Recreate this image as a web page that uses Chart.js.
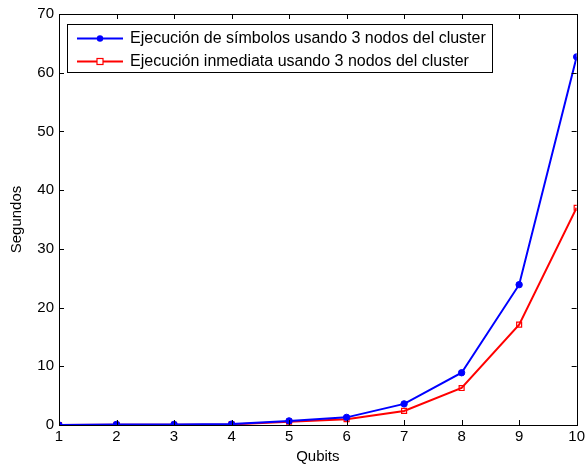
<!DOCTYPE html>
<html>
<head>
<meta charset="utf-8">
<script src="https://cdn.jsdelivr.net/npm/chart.js@4"></script>
<style>
  html, body { margin: 0; padding: 0; background: #fff; }
  #wrap { width: 588px; height: 466px; }
</style>
</head>
<body>
<div id="wrap"><canvas id="chart" width="588" height="466"></canvas></div>
<script>
const qubits = [1, 2, 3, 4, 5, 6, 7, 8, 9, 10];
const simbolos = [0.0, 0.1, 0.1, 0.15, 0.7, 1.3, 3.6, 8.9, 23.9, 62.7];
const inmediata = [0.0, 0.05, 0.05, 0.1, 0.55, 1.0, 2.4, 6.3, 17.1, 37.0];
const yTicks = [0, 10, 20, 30, 40, 50, 60, 70];

const seriesNames = [
  "Ejecución de símbolos usando 3 nodos del cluster",
  "Ejecución inmediata usando 3 nodos del cluster",
];

const FONT = "Liberation Sans, Arial, Helvetica, sans-serif";

// matlab style box + inward ticks
const boxTicks = {
  id: "boxTicks",
  afterDatasetsDraw(chart) {
    const { ctx, chartArea: a, scales } = chart;
    const len = 5;
    ctx.save();
    ctx.strokeStyle = "#000";
    ctx.lineWidth = 1;
    ctx.beginPath();
    for (const q of qubits) {
      const x = Math.round(scales.x.getPixelForValue(q)) + 0.5;
      ctx.moveTo(x, a.bottom); ctx.lineTo(x, a.bottom - len);
      ctx.moveTo(x, a.top); ctx.lineTo(x, a.top + len);
    }
    for (const v of yTicks) {
      const y = Math.round(scales.y.getPixelForValue(v)) + 0.5;
      ctx.moveTo(a.left, y); ctx.lineTo(a.left + len, y);
      ctx.moveTo(a.right, y); ctx.lineTo(a.right - len, y);
    }
    ctx.stroke();
    ctx.strokeRect(Math.round(a.left) + 0.5, Math.round(a.top) + 0.5,
      Math.round(a.right - a.left), Math.round(a.bottom - a.top));
    ctx.restore();
  },
  afterDraw(chart) {
    // legend box inside the axes
    const { ctx } = chart;
    const ds = chart.data.datasets;
    const bx = 67, by = 24, bw = 425, bh = 48;
    ctx.save();
    ctx.fillStyle = "#fff";
    ctx.fillRect(bx, by, bw, bh);
    ctx.strokeStyle = "#000";
    ctx.lineWidth = 1;
    ctx.strokeRect(bx + 0.5, by + 0.5, bw, bh);
    const rows = [38.5, 61.5];
    ds.forEach((d, i) => {
      const y = rows[i];
      ctx.strokeStyle = d.borderColor;
      ctx.lineWidth = d.borderWidth;
      ctx.beginPath();
      ctx.moveTo(77, y); ctx.lineTo(123, y);
      ctx.stroke();
      ctx.lineWidth = 1.2;
      if (d.pointStyle === "circle") {
        ctx.fillStyle = d.borderColor;
        ctx.beginPath();
        ctx.arc(100, y, 3.2, 0, Math.PI * 2);
        ctx.fill();
      } else {
        ctx.fillStyle = "#fff";
        ctx.fillRect(97, y - 3, 6, 6);
        ctx.strokeRect(97, y - 3, 6, 6);
      }
      ctx.fillStyle = "#000";
      ctx.font = "16px " + FONT;
      ctx.textBaseline = "middle";
      ctx.fillText(d.label, 130, y + 0.5);
    });
    ctx.restore();
  },
};

new Chart(document.getElementById("chart"), {
  type: "line",
  data: {
    datasets: [
      {
        label: seriesNames[0],
        data: qubits.map((q, i) => ({ x: q, y: simbolos[i] })),
        borderColor: "#0000ff",
        backgroundColor: "#0000ff",
        borderWidth: 2,
        pointStyle: "circle",
        pointRadius: 3.2,
        pointBorderWidth: 1,
        tension: 0,
      },
      {
        label: seriesNames[1],
        data: qubits.map((q, i) => ({ x: q, y: inmediata[i] })),
        borderColor: "#ff0000",
        backgroundColor: "rgba(255,255,255,0)",
        borderWidth: 2,
        pointStyle: "rect",
        pointRadius: 3.5,
        pointBorderWidth: 1.2,
        tension: 0,
      },
    ],
  },
  options: {
    responsive: false,
    animation: false,
    layout: { padding: { left: 8, top: 14, right: 10, bottom: 0 } },
    plugins: { legend: { display: false }, tooltip: { enabled: false } },
    scales: {
      x: {
        type: "linear",
        min: 1,
        max: 10,
        afterFit: (s) => { s.height = 41; },
        afterBuildTicks: (s) => { s.ticks = qubits.map((v) => ({ value: v })); },
        grid: { display: false, drawTicks: false },
        border: { display: false },
        ticks: { color: "#000", font: { family: FONT, size: 15 }, padding: 3, maxRotation: 0 },
        title: { display: true, text: "Qubits", color: "#000", font: { family: FONT, size: 15 }, padding: { top: 0, bottom: 0 } },
      },
      y: {
        min: 0,
        max: 70,
        afterFit: (s) => { s.width = 51; },
        afterBuildTicks: (s) => { s.ticks = yTicks.map((v) => ({ value: v })); },
        grid: { display: false, drawTicks: false },
        border: { display: false },
        ticks: { color: "#000", font: { family: FONT, size: 15 }, padding: 5 },
        title: { display: true, text: "Segundos", color: "#000", font: { family: FONT, size: 15 }, padding: { top: 0, bottom: 0 } },
      },
    },
  },
  plugins: [boxTicks],
});
</script>
</body>
</html>
